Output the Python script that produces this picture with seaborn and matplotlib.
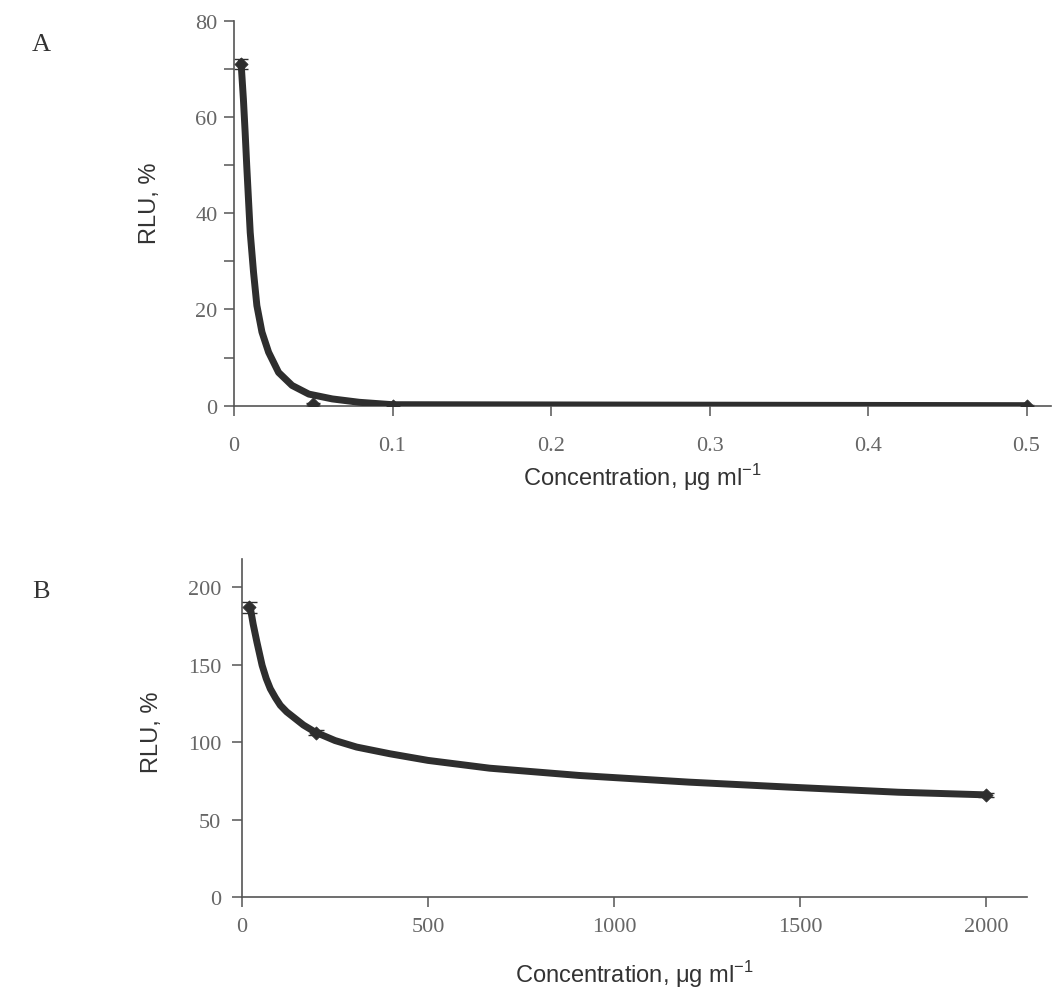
import matplotlib
matplotlib.use("Agg")
import matplotlib.pyplot as plt
import seaborn as sns
import pandas as pd

# ---- Data ----
# Panel A: measured points and the smoothed curve through them
a_points_x = [0.0045, 0.05, 0.1, 0.5]
a_points_y = [71.0, 0.3, 0.0, 0.0]
a_points_err = [1.0, 0.3, 0.2, 0.2]
a_curve_x = [0.0044, 0.0059, 0.0070, 0.0080, 0.0091, 0.0102, 0.0123, 0.0144,
             0.0176, 0.0218, 0.0281, 0.0366, 0.0472, 0.062, 0.079, 0.100,
             0.500]
a_curve_y = [71.4, 63.7, 56.8, 49.9, 42.9, 36.0, 27.7, 20.8,
             15.3, 11.1, 6.9, 4.2, 2.4, 1.4, 0.7, 0.2,
             0.0]

# Panel B
b_points_x = [20, 200, 2000]
b_points_y = [187.0, 106.0, 66.0]
b_points_err = [3.5, 1.5, 1.5]
b_curve_x = [22, 30, 40, 54, 65, 76, 90, 103, 120, 138, 165, 196, 250, 308,
             397, 500, 665, 906, 1201, 1469, 1763, 2000]
b_curve_y = [187.0, 176.0, 164.5, 149.5, 141.0, 134.4, 128.5, 123.7, 119.5,
             116.1, 111.0, 106.5, 101.0, 96.8, 92.5, 88.2, 83.2, 78.5, 74.2,
             71.0, 67.7, 66.0]

a_xticks = [0, 0.1, 0.2, 0.3, 0.4, 0.5]
a_xticklabels = ["0", "0.1", "0.2", "0.3", "0.4", "0.5"]
a_yticks = [0, 20, 40, 60, 80]
a_yminor = [10, 30, 50, 70]
b_xticks = [0, 500, 1000, 1500, 2000]
b_yticks = [0, 50, 100, 150, 200]

xlabel = "Concentration, μg ml$^{\\mathregular{-1}}$"
ylabel = "RLU, %"

# ---- Style ----
sns.set_theme(style="white")
plt.rcParams["font.family"] = ["Liberation Sans", "DejaVu Sans"]

line_col = "#2e2e2e"
axis_col = "#555555"
tick_col = "#666666"

fig = plt.figure(figsize=(10.6, 9.95), dpi=100)
axA = fig.add_axes([0.2208, 0.5913, 0.7708, 0.3869])
axB = fig.add_axes([0.2283, 0.0972, 0.7406, 0.3400])

dfA_c = pd.DataFrame({"x": a_curve_x, "y": a_curve_y})
dfA_p = pd.DataFrame({"x": a_points_x, "y": a_points_y})
dfB_c = pd.DataFrame({"x": b_curve_x, "y": b_curve_y})
dfB_p = pd.DataFrame({"x": b_points_x, "y": b_points_y})


def style_axes(ax):
    for s in ["top", "right"]:
        ax.spines[s].set_visible(False)
    for s in ["left", "bottom"]:
        ax.spines[s].set_color(axis_col)
        ax.spines[s].set_linewidth(1.2)
    ax.tick_params(axis="both", which="both", direction="out", color=axis_col,
                   width=1.1, labelcolor=tick_col, bottom=True, left=True,
                   top=False, right=False, length=7)
    for lab in ax.get_xticklabels() + ax.get_yticklabels():
        lab.set_family(["Liberation Serif", "DejaVu Serif"])
        lab.set_fontsize(16)
    ax.grid(False)


# Panel A
sns.lineplot(data=dfA_c, x="x", y="y", ax=axA, color=line_col, linewidth=5,
             sort=True, estimator=None, zorder=3)
sns.scatterplot(data=dfA_p, x="x", y="y", ax=axA, color=line_col, marker="D",
                s=45, edgecolor=line_col, zorder=4)
axA.errorbar(a_points_x, a_points_y, yerr=a_points_err, fmt="none",
             ecolor=line_col, elinewidth=1, capsize=5, zorder=2)
axA.set_xlim(0, 0.5155)
axA.set_ylim(0, 80)
axA.set_xticks(a_xticks)
axA.set_xticklabels(a_xticklabels)
axA.set_yticks(a_yticks)
axA.set_yticks(a_yminor, minor=True)
style_axes(axA)
axA.tick_params(axis="x", pad=15)
axA.tick_params(axis="y", pad=5)
axA.set_xlabel(xlabel, fontsize=17, color="#333333", labelpad=4)
axA.set_ylabel(ylabel, fontsize=17, color="#333333")
axA.yaxis.set_label_coords(-0.089, 0.529)

# Panel B
sns.lineplot(data=dfB_c, x="x", y="y", ax=axB, color=line_col, linewidth=5,
             sort=True, estimator=None, zorder=3)
sns.scatterplot(data=dfB_p, x="x", y="y", ax=axB, color=line_col, marker="D",
                s=45, edgecolor=line_col, zorder=4)
axB.errorbar(b_points_x, b_points_y, yerr=b_points_err, fmt="none",
             ecolor=line_col, elinewidth=1, capsize=6, zorder=2)
axB.set_xlim(0, 2109)
axB.set_ylim(0, 218)
axB.set_xticks(b_xticks)
axB.set_yticks(b_yticks)
style_axes(axB)
axB.tick_params(axis="x", pad=7)
axB.tick_params(axis="y", pad=8)
axB.set_xlabel(xlabel, fontsize=17, color="#333333", labelpad=16)
axB.set_ylabel(ylabel, fontsize=17, color="#333333")
axB.yaxis.set_label_coords(-0.10, 0.49)

fig.text(0.030, 0.955, "A", fontsize=19, family=["Liberation Serif"], color="#333333",
         ha="left", va="center")
fig.text(0.030, 0.405, "B", fontsize=19, family=["Liberation Serif"], color="#333333",
         ha="left", va="center")

fig.savefig("out.png", dpi=100, facecolor="white")
